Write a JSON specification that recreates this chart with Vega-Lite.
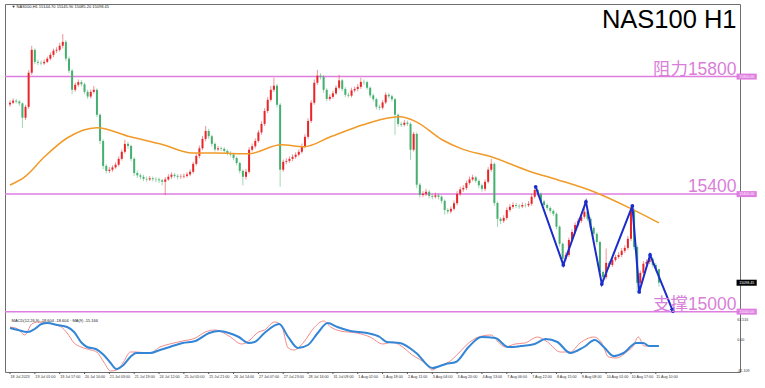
{
"$schema": "https://vega.github.io/schema/vega-lite/v6.json",
"autosize": "none",
"padding": {"left": 5, "top": 4, "right": 25, "bottom": 16},
"width": 735,
"height": 368,
"background": "white",
"config": {
  "view": {"stroke": "#6e6e6e", "strokeWidth": 1},
  "font": "Liberation Sans",
  "axis": {"labelFont": "Liberation Sans", "labelFontSize": 3.6, "labelColor": "#333333", "tickColor": "#555555", "domainColor": "#555555", "tickSize": 2, "grid": false, "labelPadding": 2}
},
"datasets": {
  "candles": [
{"i":0,"o":15705,"h":15719,"l":15698,"c":15711},{"i":2,"o":15711,"h":15726,"l":15706,"c":15718},{"i":4,"o":15718,"h":15724,"l":15709,"c":15715},{"i":6,"o":15715,"h":15720,"l":15700,"c":15709},{"i":8,"o":15709,"h":15712,"l":15625,"c":15660},{"i":10,"o":15660,"h":15704,"l":15652,"c":15697},{"i":12,"o":15697,"h":15822,"l":15690,"c":15813},{"i":14,"o":15813,"h":15905,"l":15806,"c":15891},{"i":16,"o":15891,"h":15896,"l":15842,"c":15850},{"i":18,"o":15850,"h":15858,"l":15839,"c":15847},
{"i":20,"o":15847,"h":15855,"l":15838,"c":15845},{"i":22,"o":15845,"h":15858,"l":15840,"c":15850},{"i":24,"o":15850,"h":15868,"l":15846,"c":15861},{"i":26,"o":15861,"h":15882,"l":15855,"c":15874},{"i":28,"o":15874,"h":15895,"l":15866,"c":15888},{"i":30,"o":15888,"h":15900,"l":15880,"c":15891},{"i":32,"o":15891,"h":15915,"l":15885,"c":15905},{"i":34,"o":15905,"h":15945,"l":15896,"c":15918},{"i":36,"o":15918,"h":15925,"l":15852,"c":15861},{"i":38,"o":15861,"h":15868,"l":15812,"c":15820},
{"i":40,"o":15820,"h":15826,"l":15740,"c":15755},{"i":42,"o":15755,"h":15780,"l":15748,"c":15772},{"i":44,"o":15772,"h":15790,"l":15765,"c":15781},{"i":46,"o":15781,"h":15788,"l":15766,"c":15774},{"i":48,"o":15774,"h":15779,"l":15740,"c":15748},{"i":50,"o":15748,"h":15755,"l":15724,"c":15732},{"i":52,"o":15732,"h":15756,"l":15726,"c":15748},{"i":54,"o":15748,"h":15768,"l":15742,"c":15755},{"i":56,"o":15755,"h":15760,"l":15662,"c":15670},{"i":58,"o":15670,"h":15675,"l":15570,"c":15581},
{"i":60,"o":15581,"h":15586,"l":15485,"c":15496},{"i":62,"o":15496,"h":15502,"l":15470,"c":15479},{"i":64,"o":15479,"h":15492,"l":15472,"c":15483},{"i":66,"o":15483,"h":15498,"l":15476,"c":15491},{"i":68,"o":15491,"h":15508,"l":15486,"c":15500},{"i":70,"o":15500,"h":15528,"l":15494,"c":15520},{"i":72,"o":15520,"h":15552,"l":15514,"c":15544},{"i":74,"o":15544,"h":15585,"l":15538,"c":15571},{"i":76,"o":15571,"h":15578,"l":15555,"c":15564},{"i":78,"o":15564,"h":15568,"l":15512,"c":15520},
{"i":80,"o":15520,"h":15525,"l":15462,"c":15472},{"i":82,"o":15472,"h":15480,"l":15455,"c":15464},{"i":84,"o":15464,"h":15470,"l":15450,"c":15459},{"i":86,"o":15459,"h":15466,"l":15444,"c":15452},{"i":88,"o":15452,"h":15460,"l":15442,"c":15450},{"i":90,"o":15450,"h":15462,"l":15444,"c":15454},{"i":92,"o":15454,"h":15460,"l":15443,"c":15451},{"i":94,"o":15451,"h":15458,"l":15440,"c":15450},{"i":96,"o":15450,"h":15456,"l":15438,"c":15447},{"i":98,"o":15447,"h":15452,"l":15430,"c":15442},
{"i":100,"o":15442,"h":15458,"l":15397,"c":15450},{"i":102,"o":15450,"h":15468,"l":15445,"c":15459},{"i":104,"o":15459,"h":15474,"l":15452,"c":15466},{"i":106,"o":15466,"h":15472,"l":15455,"c":15462},{"i":108,"o":15462,"h":15468,"l":15450,"c":15459},{"i":110,"o":15459,"h":15468,"l":15452,"c":15460},{"i":112,"o":15460,"h":15470,"l":15454,"c":15462},{"i":114,"o":15462,"h":15475,"l":15456,"c":15467},{"i":116,"o":15467,"h":15484,"l":15461,"c":15476},{"i":118,"o":15476,"h":15510,"l":15470,"c":15503},
{"i":120,"o":15503,"h":15538,"l":15497,"c":15530},{"i":122,"o":15530,"h":15565,"l":15522,"c":15556},{"i":124,"o":15556,"h":15598,"l":15550,"c":15588},{"i":126,"o":15588,"h":15632,"l":15580,"c":15615},{"i":128,"o":15615,"h":15622,"l":15588,"c":15597},{"i":130,"o":15597,"h":15602,"l":15562,"c":15571},{"i":132,"o":15571,"h":15576,"l":15545,"c":15552},{"i":134,"o":15552,"h":15564,"l":15546,"c":15556},{"i":136,"o":15556,"h":15562,"l":15547,"c":15554},{"i":138,"o":15554,"h":15560,"l":15540,"c":15547},
{"i":140,"o":15547,"h":15552,"l":15532,"c":15540},{"i":142,"o":15540,"h":15546,"l":15528,"c":15535},{"i":144,"o":15535,"h":15540,"l":15515,"c":15523},{"i":146,"o":15523,"h":15528,"l":15498,"c":15506},{"i":148,"o":15506,"h":15510,"l":15470,"c":15479},{"i":150,"o":15479,"h":15484,"l":15430,"c":15459},{"i":152,"o":15459,"h":15486,"l":15450,"c":15476},{"i":154,"o":15476,"h":15560,"l":15470,"c":15551},{"i":156,"o":15551,"h":15572,"l":15545,"c":15563},{"i":158,"o":15563,"h":15590,"l":15556,"c":15581},
{"i":160,"o":15581,"h":15618,"l":15575,"c":15610},{"i":162,"o":15610,"h":15648,"l":15602,"c":15639},{"i":164,"o":15639,"h":15692,"l":15632,"c":15683},{"i":166,"o":15683,"h":15730,"l":15676,"c":15721},{"i":168,"o":15721,"h":15768,"l":15715,"c":15755},{"i":170,"o":15755,"h":15796,"l":15748,"c":15769},{"i":172,"o":15769,"h":15775,"l":15695,"c":15704},{"i":174,"o":15704,"h":15710,"l":15425,"c":15483},{"i":176,"o":15483,"h":15518,"l":15476,"c":15510},{"i":178,"o":15510,"h":15522,"l":15502,"c":15513},
{"i":180,"o":15513,"h":15528,"l":15506,"c":15520},{"i":182,"o":15520,"h":15535,"l":15512,"c":15527},{"i":184,"o":15527,"h":15542,"l":15520,"c":15534},{"i":186,"o":15534,"h":15552,"l":15528,"c":15544},{"i":188,"o":15544,"h":15572,"l":15538,"c":15563},{"i":190,"o":15563,"h":15604,"l":15556,"c":15595},{"i":192,"o":15595,"h":15658,"l":15588,"c":15649},{"i":194,"o":15649,"h":15720,"l":15642,"c":15711},{"i":196,"o":15711,"h":15790,"l":15704,"c":15779},{"i":198,"o":15779,"h":15823,"l":15772,"c":15803},
{"i":200,"o":15803,"h":15812,"l":15790,"c":15799},{"i":202,"o":15799,"h":15805,"l":15745,"c":15755},{"i":204,"o":15755,"h":15760,"l":15716,"c":15724},{"i":206,"o":15724,"h":15740,"l":15718,"c":15731},{"i":208,"o":15731,"h":15752,"l":15725,"c":15743},{"i":210,"o":15743,"h":15770,"l":15737,"c":15762},{"i":212,"o":15762,"h":15806,"l":15756,"c":15787},{"i":214,"o":15787,"h":15792,"l":15750,"c":15758},{"i":216,"o":15758,"h":15764,"l":15730,"c":15738},{"i":218,"o":15738,"h":15745,"l":15728,"c":15735},
{"i":220,"o":15735,"h":15762,"l":15729,"c":15753},{"i":222,"o":15753,"h":15766,"l":15746,"c":15758},{"i":224,"o":15758,"h":15774,"l":15750,"c":15765},{"i":226,"o":15765,"h":15796,"l":15758,"c":15782},{"i":228,"o":15782,"h":15790,"l":15772,"c":15781},{"i":230,"o":15781,"h":15786,"l":15755,"c":15762},{"i":232,"o":15762,"h":15766,"l":15728,"c":15736},{"i":234,"o":15736,"h":15742,"l":15715,"c":15723},{"i":236,"o":15723,"h":15728,"l":15688,"c":15697},{"i":238,"o":15697,"h":15704,"l":15686,"c":15694},
{"i":240,"o":15694,"h":15720,"l":15688,"c":15712},{"i":242,"o":15712,"h":15746,"l":15706,"c":15738},{"i":244,"o":15738,"h":15744,"l":15726,"c":15733},{"i":246,"o":15733,"h":15738,"l":15715,"c":15723},{"i":248,"o":15723,"h":15728,"l":15602,"c":15670},{"i":250,"o":15670,"h":15675,"l":15630,"c":15639},{"i":252,"o":15639,"h":15646,"l":15628,"c":15636},{"i":254,"o":15636,"h":15652,"l":15630,"c":15643},{"i":256,"o":15643,"h":15650,"l":15632,"c":15639},{"i":258,"o":15639,"h":15644,"l":15517,"c":15551},
{"i":260,"o":15551,"h":15612,"l":15545,"c":15605},{"i":262,"o":15605,"h":15610,"l":15420,"c":15432},{"i":264,"o":15432,"h":15438,"l":15388,"c":15397},{"i":266,"o":15397,"h":15410,"l":15390,"c":15401},{"i":268,"o":15401,"h":15418,"l":15394,"c":15408},{"i":270,"o":15408,"h":15414,"l":15385,"c":15394},{"i":272,"o":15394,"h":15400,"l":15382,"c":15391},{"i":274,"o":15391,"h":15405,"l":15385,"c":15396},{"i":276,"o":15396,"h":15402,"l":15382,"c":15391},{"i":278,"o":15391,"h":15396,"l":15368,"c":15377},
{"i":280,"o":15377,"h":15382,"l":15330,"c":15346},{"i":282,"o":15346,"h":15352,"l":15332,"c":15341},{"i":284,"o":15341,"h":15358,"l":15334,"c":15350},{"i":286,"o":15350,"h":15378,"l":15344,"c":15369},{"i":288,"o":15369,"h":15410,"l":15362,"c":15401},{"i":290,"o":15401,"h":15425,"l":15394,"c":15416},{"i":292,"o":15416,"h":15430,"l":15408,"c":15421},{"i":294,"o":15421,"h":15446,"l":15414,"c":15438},{"i":296,"o":15438,"h":15460,"l":15432,"c":15450},{"i":298,"o":15450,"h":15466,"l":15444,"c":15457},
{"i":300,"o":15457,"h":15462,"l":15438,"c":15445},{"i":302,"o":15445,"h":15450,"l":15420,"c":15430},{"i":304,"o":15430,"h":15436,"l":15408,"c":15418},{"i":306,"o":15418,"h":15450,"l":15410,"c":15442},{"i":308,"o":15442,"h":15492,"l":15436,"c":15483},{"i":310,"o":15483,"h":15520,"l":15476,"c":15503},{"i":312,"o":15503,"h":15508,"l":15360,"c":15370},{"i":314,"o":15370,"h":15375,"l":15288,"c":15316},{"i":316,"o":15316,"h":15322,"l":15298,"c":15309},{"i":318,"o":15309,"h":15328,"l":15302,"c":15319},
{"i":320,"o":15319,"h":15355,"l":15312,"c":15346},{"i":322,"o":15346,"h":15366,"l":15340,"c":15357},{"i":324,"o":15357,"h":15372,"l":15350,"c":15363},{"i":326,"o":15363,"h":15370,"l":15352,"c":15360},{"i":328,"o":15360,"h":15366,"l":15350,"c":15358},{"i":330,"o":15358,"h":15372,"l":15352,"c":15363},{"i":332,"o":15363,"h":15370,"l":15354,"c":15362},{"i":334,"o":15362,"h":15376,"l":15356,"c":15367},{"i":336,"o":15367,"h":15400,"l":15360,"c":15391},{"i":338,"o":15391,"h":15425,"l":15385,"c":15414},
{"i":340,"o":15414,"h":15420,"l":15394,"c":15401},{"i":342,"o":15401,"h":15406,"l":15368,"c":15375},{"i":344,"o":15375,"h":15380,"l":15355,"c":15363},{"i":346,"o":15363,"h":15368,"l":15345,"c":15353},{"i":348,"o":15353,"h":15358,"l":15335,"c":15343},{"i":350,"o":15343,"h":15348,"l":15325,"c":15333},{"i":352,"o":15333,"h":15338,"l":15280,"c":15289},{"i":354,"o":15289,"h":15294,"l":15222,"c":15231},{"i":356,"o":15231,"h":15236,"l":15159,"c":15180},{"i":358,"o":15180,"h":15202,"l":15172,"c":15193},
{"i":360,"o":15193,"h":15252,"l":15186,"c":15244},{"i":362,"o":15244,"h":15280,"l":15238,"c":15271},{"i":364,"o":15271,"h":15304,"l":15264,"c":15295},{"i":366,"o":15295,"h":15318,"l":15288,"c":15309},{"i":368,"o":15309,"h":15332,"l":15302,"c":15323},{"i":370,"o":15323,"h":15374,"l":15316,"c":15340},{"i":372,"o":15340,"h":15346,"l":15308,"c":15316},{"i":374,"o":15316,"h":15322,"l":15276,"c":15285},{"i":376,"o":15285,"h":15290,"l":15256,"c":15265},{"i":378,"o":15265,"h":15270,"l":15228,"c":15237},
{"i":380,"o":15237,"h":15242,"l":15126,"c":15135},{"i":382,"o":15135,"h":15140,"l":15094,"c":15118},{"i":384,"o":15118,"h":15215,"l":15110,"c":15166},{"i":386,"o":15166,"h":15172,"l":15150,"c":15159},{"i":388,"o":15159,"h":15184,"l":15152,"c":15176},{"i":390,"o":15176,"h":15194,"l":15170,"c":15186},{"i":392,"o":15186,"h":15202,"l":15180,"c":15193},{"i":394,"o":15193,"h":15216,"l":15186,"c":15207},{"i":396,"o":15207,"h":15226,"l":15200,"c":15217},{"i":398,"o":15217,"h":15258,"l":15210,"c":15248},
{"i":400,"o":15248,"h":15360,"l":15240,"c":15346},{"i":402,"o":15346,"h":15352,"l":15210,"c":15220},{"i":404,"o":15220,"h":15226,"l":15067,"c":15098},{"i":406,"o":15098,"h":15140,"l":15090,"c":15132},{"i":408,"o":15132,"h":15172,"l":15125,"c":15163},{"i":410,"o":15163,"h":15178,"l":15156,"c":15169},{"i":412,"o":15169,"h":15193,"l":15162,"c":15180},{"i":414,"o":15180,"h":15186,"l":15150,"c":15159},{"i":416,"o":15159,"h":15166,"l":15136,"c":15145},{"i":418,"o":15144.7,"h":15145.9,"l":15085.2,"c":15098.45}
  ],
  "ma": [
{"i":0,"p":15431},{"i":9.5,"p":15459},{"i":22.2,"p":15527},{"i":36.8,"p":15591},{"i":55.9,"p":15626},{"i":77.5,"p":15595},{"i":98.5,"p":15568},{"i":117.5,"p":15540},{"i":132.1,"p":15540},{"i":153.7,"p":15537},{"i":174.7,"p":15568},{"i":189.3,"p":15561},{"i":206.5,"p":15595},{"i":227.4,"p":15636},{"i":244.6,"p":15660},{"i":251,"p":15663},{"i":261.7,"p":15646},{"i":278.3,"p":15585},{"i":291,"p":15554},{"i":310,"p":15527},{"i":335.4,"p":15476},{"i":352.6,"p":15449},{"i":376.1,"p":15408},{"i":399,"p":15353},{"i":418,"p":15302}
  ],
  "zigzag": [
{"i":338.6,"p":15425},{"i":356.4,"p":15159},{"i":371,"p":15374},{"i":381.2,"p":15094},{"i":400.9,"p":15360},{"i":405.3,"p":15067},{"i":412.3,"p":15193},{"i":427,"p":15002}
  ],
  "macd": [
{"i":0,"v":30},{"i":5.1,"v":25},{"i":11.4,"v":20},{"i":15.9,"v":27.5},{"i":20.3,"v":40},{"i":24.1,"v":42.5},{"i":30.5,"v":37.5},{"i":36.8,"v":32.5},{"i":41.3,"v":20},{"i":45.7,"v":-5},{"i":49.6,"v":-17.5},{"i":55.3,"v":-22.5},{"i":60.4,"v":-37.5},{"i":64.8,"v":-57.5},{"i":68.6,"v":-72.5},{"i":73.1,"v":-62.5},{"i":77.5,"v":-42.5},{"i":81.3,"v":-32.5},{"i":90.2,"v":-32.5},{"i":96.6,"v":-25},{"i":102.9,"v":-17.5},{"i":111.2,"v":-7.5},{"i":119.4,"v":-2.5},{"i":128.3,"v":17.5},{"i":134.7,"v":22.5},{"i":141,"v":17.5},{"i":147.4,"v":7.5},{"i":153.7,"v":-7.5},{"i":157.6,"v":-5},{"i":163.9,"v":17.5},{"i":173.4,"v":40},{"i":179.2,"v":7.5},{"i":185.5,"v":-20},{"i":191.9,"v":-12.5},{"i":198.2,"v":17.5},{"i":204.6,"v":42.5},{"i":210.9,"v":32.5},{"i":219.2,"v":22.5},{"i":230,"v":17.5},{"i":238.2,"v":7.5},{"i":242.7,"v":-5},{"i":251,"v":-7.5},{"i":261.7,"v":-32.5},{"i":271.9,"v":-70},{"i":280.8,"v":-60},{"i":287.2,"v":-55},{"i":295.4,"v":-17.5},{"i":303.7,"v":7.5},{"i":312.6,"v":5},{"i":320.8,"v":-17.5},{"i":329.1,"v":-15},{"i":338,"v":-10},{"i":345,"v":2.5},{"i":352.6,"v":-5},{"i":360.9,"v":-32.5},{"i":369.7,"v":-17.5},{"i":376.7,"v":0},{"i":382.5,"v":-17.5},{"i":388.8,"v":-40},{"i":395.2,"v":-32.5},{"i":403.4,"v":-7.5},{"i":407.9,"v":-7.5},{"i":411.7,"v":-15},{"i":418,"v":-15}
  ],
  "signal": [
{"i":0,"v":32.5},{"i":5.1,"v":27.5},{"i":9.5,"v":12.5},{"i":14,"v":40},{"i":17.8,"v":45},{"i":24.1,"v":42.5},{"i":33,"v":32.5},{"i":36.8,"v":17.5},{"i":41.3,"v":-7.5},{"i":45.7,"v":-17.5},{"i":52.1,"v":-25},{"i":55.9,"v":-30},{"i":60.4,"v":-55},{"i":64.8,"v":-77.5},{"i":68.6,"v":-75},{"i":73.1,"v":-55},{"i":77.5,"v":-30},{"i":81.3,"v":-30},{"i":90.2,"v":-32.5},{"i":96.6,"v":-17.5},{"i":102.9,"v":-10},{"i":111.2,"v":-2.5},{"i":119.4,"v":5},{"i":125.8,"v":20},{"i":132.1,"v":25},{"i":141,"v":10},{"i":149.3,"v":-10},{"i":153.7,"v":-2.5},{"i":160.1,"v":20},{"i":163.9,"v":25},{"i":170.3,"v":45},{"i":174.7,"v":37.5},{"i":179.2,"v":-20},{"i":183,"v":-25},{"i":189.3,"v":-5},{"i":195.7,"v":30},{"i":202,"v":47.5},{"i":206.5,"v":32.5},{"i":212.8,"v":22.5},{"i":223.6,"v":17.5},{"i":231.9,"v":7.5},{"i":240.1,"v":-10},{"i":246.5,"v":-5},{"i":251,"v":-12.5},{"i":259.2,"v":-37.5},{"i":268.1,"v":-60},{"i":271.9,"v":-75},{"i":276.4,"v":-65},{"i":282.7,"v":-55},{"i":289.1,"v":-32.5},{"i":295.4,"v":-7.5},{"i":301.8,"v":7.5},{"i":310,"v":12.5},{"i":314.5,"v":-5},{"i":318.9,"v":-17.5},{"i":325.3,"v":-10},{"i":331.6,"v":-7.5},{"i":339.9,"v":7.5},{"i":346.2,"v":-5},{"i":354.5,"v":-30},{"i":360.9,"v":-30},{"i":367.2,"v":-7.5},{"i":376.1,"v":7.5},{"i":381.2,"v":-7.5},{"i":385.6,"v":-42.5},{"i":390.7,"v":-45},{"i":397.1,"v":-30},{"i":401.5,"v":-15},{"i":404.7,"v":7.5},{"i":408.5,"v":-15},{"i":412.9,"v":-15},{"i":416.1,"v":-15}
  ],
  "xlabels": [
{"i":0,"t":"18 Jul 2023"},{"i":16,"t":"19 Jul 01:00"},{"i":32,"t":"19 Jul 17:00"},{"i":48,"t":"20 Jul 10:00"},{"i":64,"t":"21 Jul 03:00"},{"i":80,"t":"21 Jul 19:00"},{"i":96,"t":"24 Jul 12:00"},{"i":112,"t":"25 Jul 05:00"},{"i":128,"t":"25 Jul 21:00"},{"i":144,"t":"26 Jul 14:00"},{"i":160,"t":"27 Jul 07:00"},{"i":176,"t":"27 Jul 23:00"},{"i":192,"t":"28 Jul 16:00"},{"i":208,"t":"31 Jul 09:00"},{"i":224,"t":"1 Aug 02:00"},{"i":240,"t":"1 Aug 18:00"},{"i":256,"t":"2 Aug 11:00"},{"i":272,"t":"3 Aug 04:00"},{"i":288,"t":"3 Aug 20:00"},{"i":304,"t":"4 Aug 13:00"},{"i":320,"t":"7 Aug 06:00"},{"i":336,"t":"7 Aug 22:00"},{"i":352,"t":"8 Aug 15:00"},{"i":368,"t":"9 Aug 08:00"},{"i":384,"t":"10 Aug 01:00"},{"i":400,"t":"10 Aug 17:00"},{"i":416,"t":"11 Aug 10:00"}
  ]
},
"resolve": {"scale": {"y": "independent"}},
"layer": [
 {
  "layer": [
   {"data": {"values": [{"p": 15800}, {"p": 15400}, {"p": 15000}]},
    "mark": {"type": "rule", "color": "#e07de0", "strokeWidth": 1.5},
    "encoding": {"y": {"field": "p", "type": "quantitative", "title": null, "scale": {"domain": [14992, 16047], "range": [310, 0], "nice": false, "zero": false},
      "axis": {"orient": "right", "title": null, "format": ".2f", "values": [16006.9, 15962.7, 15918.5, 15874.3, 15830.1, 15785.9, 15741.7, 15697.5, 15653.3, 15609.1, 15564.9, 15520.7, 15476.5, 15431.0, 15386.8, 15342.6, 15298.4, 15254.2, 15210.0, 15165.8, 15121.6, 15077.4, 15033.2, 14989.0], "tickSize": 2, "labelFontSize": 3.6}}}},
   {"data": {"name": "candles"},
    "mark": {"type": "rule", "strokeWidth": 1, "opacity": 0.5},
    "encoding": {
      "x": {"field": "i", "type": "quantitative", "scale": {"domain": [0, 467], "nice": false, "zero": false}, "axis": null},
      "y": {"field": "l", "type": "quantitative", "scale": {"domain": [14992, 16047], "range": [310, 0], "nice": false, "zero": false}, "axis": null, "title": null},
      "y2": {"field": "h"},
      "color": {"condition": {"test": "datum.c >= datum.o", "value": "#e8262a"}, "value": "#45b06e"}}},
   {"data": {"name": "candles"},
    "mark": {"type": "bar", "width": 2},
    "encoding": {
      "x": {"field": "i", "type": "quantitative", "scale": {"domain": [0, 467], "nice": false, "zero": false}, "axis": null},
      "y": {"field": "o", "type": "quantitative", "scale": {"domain": [14992, 16047], "range": [310, 0], "nice": false, "zero": false}, "axis": null, "title": null},
      "y2": {"field": "c"},
      "color": {"condition": {"test": "datum.c >= datum.o", "value": "#e8262a"}, "value": "#45b06e"}}},
   {"data": {"name": "ma"},
    "mark": {"type": "line", "color": "#f09a28", "strokeWidth": 1.5, "interpolate": "monotone"},
    "encoding": {
      "x": {"field": "i", "type": "quantitative", "scale": {"domain": [0, 467], "nice": false, "zero": false}, "axis": null},
      "y": {"field": "p", "type": "quantitative", "scale": {"domain": [14992, 16047], "range": [310, 0], "nice": false, "zero": false}, "axis": null, "title": null}}},
   {"data": {"name": "zigzag"},
    "mark": {"type": "line", "color": "#1a2ccc", "strokeWidth": 2},
    "encoding": {
      "x": {"field": "i", "type": "quantitative", "scale": {"domain": [0, 467], "nice": false, "zero": false}, "axis": null},
      "y": {"field": "p", "type": "quantitative", "scale": {"domain": [14992, 16047], "range": [310, 0], "nice": false, "zero": false}, "axis": null, "title": null}}},
   {"data": {"name": "zigzag"},
    "mark": {"type": "point", "filled": true, "color": "#1a2ccc", "size": 14, "opacity": 1},
    "encoding": {
      "x": {"field": "i", "type": "quantitative", "scale": {"domain": [0, 467], "nice": false, "zero": false}, "axis": null},
      "y": {"field": "p", "type": "quantitative", "scale": {"domain": [14992, 16047], "range": [310, 0], "nice": false, "zero": false}, "axis": null, "title": null}}},
   {"data": {"values": [{"i": 427, "p": 15004}]},
    "mark": {"type": "point", "shape": "triangle-down", "filled": true, "color": "#1a2ccc", "size": 30, "angle": 338, "opacity": 1},
    "encoding": {
      "x": {"field": "i", "type": "quantitative", "scale": {"domain": [0, 467], "nice": false, "zero": false}, "axis": null},
      "y": {"field": "p", "type": "quantitative", "scale": {"domain": [14992, 16047], "range": [310, 0], "nice": false, "zero": false}, "axis": null, "title": null}}},
   {"data": {"values": [{"i": 468, "p": 15806, "t": "阻力15800"}, {"i": 468, "p": 15407, "t": "15400"}, {"i": 468, "p": 15005, "t": "支撑15000"}]},
    "mark": {"type": "text", "align": "right", "baseline": "alphabetic", "fontSize": 17.5, "font": "Liberation Sans, Noto Sans CJK SC", "color": "#d97fd9"},
    "encoding": {
      "x": {"field": "i", "type": "quantitative", "scale": {"domain": [0, 467], "nice": false, "zero": false}, "axis": null},
      "y": {"field": "p", "type": "quantitative", "scale": {"domain": [14992, 16047], "range": [310, 0], "nice": false, "zero": false}, "axis": null, "title": null},
      "text": {"field": "t"}}},
   {"data": {"values": [{"i": 468, "p": 15965, "t": "NAS100 H1"}]},
    "mark": {"type": "text", "align": "right", "baseline": "alphabetic", "fontSize": 25.5, "font": "Liberation Sans", "color": "#000000"},
    "encoding": {
      "x": {"field": "i", "type": "quantitative", "scale": {"domain": [0, 467], "nice": false, "zero": false}, "axis": null},
      "y": {"field": "p", "type": "quantitative", "scale": {"domain": [14992, 16047], "range": [310, 0], "nice": false, "zero": false}, "axis": null, "title": null},
      "text": {"field": "t"}}},
   {"data": {"values": [{"i": 1, "p": 16036, "t": "▼ NAS100,H1  15144.70 15145.90 15085.20 15098.45"}]},
    "mark": {"type": "text", "align": "left", "baseline": "middle", "fontSize": 4, "font": "Liberation Sans", "color": "#222222"},
    "encoding": {
      "x": {"field": "i", "type": "quantitative", "scale": {"domain": [0, 467], "nice": false, "zero": false}, "axis": null},
      "y": {"field": "p", "type": "quantitative", "scale": {"domain": [14992, 16047], "range": [310, 0], "nice": false, "zero": false}, "axis": null, "title": null},
      "text": {"field": "t"}}},
   {"data": {"values": [{"p": 15800, "k": "lvl"}, {"p": 15400, "k": "lvl"}, {"p": 15000, "k": "lvl"}, {"p": 15098.45, "k": "cur"}]},
    "mark": {"type": "rect", "yOffset": -3, "y2Offset": 3},
    "encoding": {
      "x": {"datum": 468, "type": "quantitative", "scale": {"domain": [0, 467], "nice": false, "zero": false}, "axis": null},
      "x2": {"datum": 481},
      "y": {"field": "p", "type": "quantitative", "scale": {"domain": [14992, 16047], "range": [310, 0], "nice": false, "zero": false}, "axis": null, "title": null},
      "y2": {"field": "p"},
      "color": {"condition": {"test": "datum.k == 'cur'", "value": "#000000"}, "value": "#e07de0"}}},
   {"data": {"values": [{"p": 15800, "t": "15800.00"}, {"p": 15400, "t": "15400.00"}, {"p": 15000, "t": "15000.00"}, {"p": 15098.45, "t": "15098.45"}]},
    "mark": {"type": "text", "align": "center", "baseline": "middle", "fontSize": 3.6, "font": "Liberation Sans", "color": "#ffffff"},
    "encoding": {
      "x": {"datum": 474.5, "type": "quantitative", "scale": {"domain": [0, 467], "nice": false, "zero": false}, "axis": null},
      "y": {"field": "p", "type": "quantitative", "scale": {"domain": [14992, 16047], "range": [310, 0], "nice": false, "zero": false}, "axis": null, "title": null},
      "text": {"field": "t"}}}
  ]
 },
 {
  "layer": [
   {"data": {"name": "signal"},
    "mark": {"type": "line", "color": "#f28a8a", "strokeWidth": 1, "interpolate": "monotone"},
    "encoding": {
      "x": {"field": "i", "type": "quantitative", "scale": {"domain": [0, 467], "nice": false, "zero": false}, "axis": null},
      "y": {"field": "v", "type": "quantitative", "title": null, "scale": {"domain": [-80, 57.5], "range": [368, 313], "nice": false, "zero": false}, "axis": null}}},
   {"mark": {"type": "rule", "color": "#c8c8c8", "strokeWidth": 1},
    "encoding": {"y": {"datum": 0, "type": "quantitative", "scale": {"domain": [-80, 57.5], "range": [368, 313], "nice": false, "zero": false}, "axis": null, "title": null}}},
   {"mark": {"type": "rule", "color": "#8c8c8c", "strokeWidth": 2.5},
    "encoding": {"y": {"datum": 61.5, "type": "quantitative", "scale": {"domain": [-80, 57.5], "range": [368, 313], "nice": false, "zero": false}, "axis": null, "title": null}}},
   {"data": {"name": "macd"},
    "mark": {"type": "line", "color": "#3386d6", "strokeWidth": 2, "interpolate": "monotone"},
    "encoding": {
      "x": {"field": "i", "type": "quantitative", "scale": {"domain": [0, 467], "nice": false, "zero": false}, "axis": null},
      "y": {"field": "v", "type": "quantitative", "scale": {"domain": [-80, 57.5], "range": [368, 313], "nice": false, "zero": false}, "axis": null, "title": null}}},
   {"data": {"values": [{"i": 1, "v": 48, "t": "MACD(12,26,9) -18.604 -18.604 ··MA(9) -15.166"}]},
    "mark": {"type": "text", "align": "left", "baseline": "middle", "fontSize": 4, "font": "Liberation Sans", "color": "#222222"},
    "encoding": {
      "x": {"field": "i", "type": "quantitative", "scale": {"domain": [0, 467], "nice": false, "zero": false}, "axis": null},
      "y": {"field": "v", "type": "quantitative", "scale": {"domain": [-80, 57.5], "range": [368, 313], "nice": false, "zero": false}, "axis": null, "title": null},
      "text": {"field": "t"}}},
   {"data": {"values": [{"v": 50, "t": "63.516"}, {"v": 0, "t": "0.00"}, {"v": -77.5, "t": "-61.109"}]},
    "mark": {"type": "text", "align": "left", "baseline": "middle", "fontSize": 3.6, "font": "Liberation Sans", "color": "#333333"},
    "encoding": {
      "x": {"datum": 468.5, "type": "quantitative", "scale": {"domain": [0, 467], "nice": false, "zero": false}, "axis": null},
      "y": {"field": "v", "type": "quantitative", "scale": {"domain": [-80, 57.5], "range": [368, 313], "nice": false, "zero": false}, "axis": null, "title": null},
      "text": {"field": "t"}}},
   {"data": {"name": "xlabels"},
    "mark": {"type": "rule", "color": "#555555", "strokeWidth": 1},
    "encoding": {
      "x": {"field": "i", "type": "quantitative", "scale": {"domain": [0, 467], "nice": false, "zero": false}, "axis": null},
      "y": {"datum": -80, "type": "quantitative", "scale": {"domain": [-80, 57.5], "range": [368, 313], "nice": false, "zero": false}, "axis": null, "title": null},
      "y2": {"datum": -85}}},
   {"data": {"name": "xlabels"},
    "mark": {"type": "text", "align": "left", "baseline": "middle", "fontSize": 3.7, "font": "Liberation Sans", "color": "#333333", "dx": 0.5},
    "encoding": {
      "x": {"field": "i", "type": "quantitative", "scale": {"domain": [0, 467], "nice": false, "zero": false}, "axis": null},
      "y": {"datum": -92, "type": "quantitative", "scale": {"domain": [-80, 57.5], "range": [368, 313], "nice": false, "zero": false}, "axis": null, "title": null},
      "text": {"field": "t"}}}
  ]
 }
]
}
